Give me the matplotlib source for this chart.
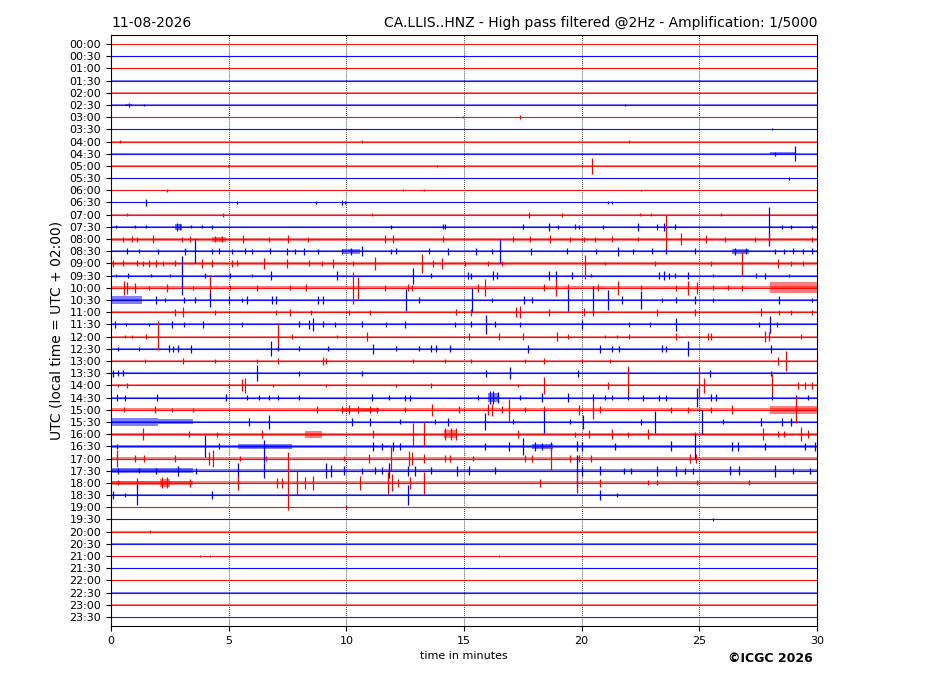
import matplotlib
matplotlib.use("Agg")
import matplotlib.pyplot as plt

# ---------------- data ----------------
row_labels = [f"{h:02d}:{m:02d}" for h in range(24) for m in (0, 30)]
# background noise half-width per row (in row units)
row_noise = [0.03, 0.03, 0.05, 0.06, 0.04, 0.04, 0.04, 0.04, 0.06, 0.06, 0.04, 0.04,
             0.05, 0.05, 0.08, 0.08, 0.12, 0.10, 0.10, 0.08, 0.12, 0.12, 0.08, 0.08,
             0.08, 0.07, 0.10, 0.06, 0.08, 0.08, 0.12, 0.10, 0.12, 0.10, 0.10, 0.10,
             0.12, 0.08, 0.05, 0.04, 0.04, 0.03, 0.04, 0.03, 0.03, 0.03, 0.03, 0.03]
row_colors = ["red", "blue"]

# spikes: (row, minute, amplitude) or (row, minute, up, down)
spikes = [
    ("02:30", 0.75, 0.15), ("02:30", 1.4, 0.06), ("02:30", 21.85, 0.08),
    ("03:00", 14.95, 0.1), ("03:00", 17.4, 0.15),
    ("03:30", 28.1, 0.08),
    ("04:00", 0.4, 0.1), ("04:00", 10.67, 0.1), ("04:00", 22.0, 0.12),
    ("04:30", 28.2, 0.15), ("04:30", 29.07, 0.6),
    ("05:00", 4.97, 0.08), ("05:00", 13.85, 0.1), ("05:00", 20.44, 0.65),
    ("05:30", 28.8, 0.12),
    ("06:00", 2.37, 0.1), ("06:00", 12.4, 0.08), ("06:00", 13.3, 0.08), ("06:00", 22.5, 0.06),
    ("06:30", 1.49, 0.3), ("06:30", 5.34, 0.15), ("06:30", 8.7, 0.1), ("06:30", 9.8, 0.2),
    ("06:30", 9.95, 0.15), ("06:30", 21.1, 0.1), ("06:30", 21.3, 0.1),
    ("07:00", 0.7, 0.12), ("07:00", 4.77, 0.15), ("07:00", 11.08, 0.1), ("07:00", 17.75, 0.25),
    ("07:00", 19.15, 0.15), ("07:00", 22.47, 0.1), ("07:00", 22.96, 0.12), ("07:00", 25.9, 0.1),
    ("07:30", 0.2, 0.12), ("07:30", 1.0, 0.12), ("07:30", 1.5, 0.12), ("07:30", 2.8, 0.3),
    ("07:30", 2.95, 0.25), ("07:30", 3.4, 0.12), ("07:30", 3.85, 0.12), ("07:30", 4.3, 0.15),
    ("07:30", 11.9, 0.15), ("07:30", 14.1, 0.2), ("07:30", 14.2, 0.2), ("07:30", 17.5, 0.2),
    ("07:30", 18.6, 0.3), ("07:30", 19.0, 0.15), ("07:30", 19.7, 0.2), ("07:30", 19.9, 0.15),
    ("07:30", 20.9, 0.15), ("07:30", 22.4, 0.35), ("07:30", 23.2, 0.25), ("07:30", 23.5, 0.3),
    ("07:30", 23.95, 0.2), ("07:30", 27.95, 1.6), ("07:30", 28.5, 0.15), ("07:30", 28.9, 0.15),
    ("07:30", 29.8, 0.15),
    ("08:00", 0.52, 0.2), ("08:00", 0.88, 0.25), ("08:00", 1.09, 0.2), ("08:00", 1.8, 0.3),
    ("08:00", 3.0, 0.2), ("08:00", 3.36, 0.25), ("08:00", 4.4, 0.25), ("08:00", 4.7, 0.25),
    ("08:00", 5.6, 0.3), ("08:00", 6.7, 0.2), ("08:00", 7.5, 0.35), ("08:00", 8.39, 0.2),
    ("08:00", 11.65, 0.35), ("08:00", 12.0, 0.35), ("08:00", 14.1, 0.25), ("08:00", 17.1, 0.25),
    ("08:00", 17.8, 0.25), ("08:00", 18.65, 0.35), ("08:00", 19.5, 0.2), ("08:00", 20.1, 0.2),
    ("08:00", 20.55, 0.2), ("08:00", 21.3, 0.25), ("08:00", 22.4, 0.15), ("08:00", 23.6, 2.0, 1.0),
    ("08:00", 24.2, 0.5), ("08:00", 25.3, 0.3), ("08:00", 26.1, 0.2), ("08:00", 27.35, 0.2),
    ("08:00", 27.95, 0.5), ("08:00", 29.8, 0.2),
    ("08:30", 0.7, 0.25), ("08:30", 1.2, 0.15), ("08:30", 2.0, 0.2), ("08:30", 3.15, 0.3),
    ("08:30", 3.57, 1.0), ("08:30", 4.28, 0.2), ("08:30", 4.6, 0.25), ("08:30", 5.13, 0.2),
    ("08:30", 5.7, 0.25), ("08:30", 6.0, 0.2), ("08:30", 6.76, 0.25), ("08:30", 7.47, 0.3),
    ("08:30", 7.8, 0.2), ("08:30", 8.2, 0.3), ("08:30", 8.8, 0.2), ("08:30", 9.8, 0.2),
    ("08:30", 10.2, 0.3), ("08:30", 10.65, 0.4), ("08:30", 11.9, 0.2), ("08:30", 12.1, 0.25),
    ("08:30", 13.5, 0.25), ("08:30", 14.3, 0.3), ("08:30", 15.5, 0.3), ("08:30", 16.2, 0.2),
    ("08:30", 16.55, 1.0), ("08:30", 17.85, 0.3), ("08:30", 19.36, 0.25), ("08:30", 20.6, 0.2),
    ("08:30", 21.55, 0.35), ("08:30", 22.2, 0.2), ("08:30", 22.97, 0.25), ("08:30", 23.6, 0.2),
    ("08:30", 24.8, 0.25), ("08:30", 26.5, 0.3), ("08:30", 27.0, 0.25), ("08:30", 28.2, 0.2),
    ("08:30", 28.6, 0.2), ("08:30", 29.0, 0.25), ("08:30", 29.4, 0.2), ("08:30", 29.8, 0.25),
    ("09:00", 0.1, 0.3), ("09:00", 0.52, 0.25), ("09:00", 1.09, 0.25), ("09:00", 1.35, 0.2),
    ("09:00", 1.6, 0.3), ("09:00", 1.9, 0.3), ("09:00", 2.2, 0.2), ("09:00", 2.72, 0.25),
    ("09:00", 3.85, 0.4), ("09:00", 4.3, 0.3), ("09:00", 5.15, 0.3), ("09:00", 5.35, 0.25),
    ("09:00", 6.5, 0.45), ("09:00", 7.47, 0.35), ("09:00", 8.4, 0.25), ("09:00", 8.95, 0.2),
    ("09:00", 9.45, 0.4), ("09:00", 10.3, 0.2), ("09:00", 11.2, 0.55), ("09:00", 13.2, 0.8),
    ("09:00", 13.7, 0.3), ("09:00", 14.05, 0.45), ("09:00", 15.05, 0.2), ("09:00", 16.0, 0.2),
    ("09:00", 16.6, 0.2), ("09:00", 20.15, 0.7, 1.3), ("09:00", 21.0, 0.15), ("09:00", 23.1, 0.2),
    ("09:00", 25.5, 0.2), ("09:00", 26.8, 1.0), ("09:00", 28.35, 0.35), ("09:00", 28.9, 0.2),
    ("09:00", 29.4, 0.2),
    ("09:30", 0.2, 0.15), ("09:30", 0.74, 0.2), ("09:30", 1.7, 0.15), ("09:30", 2.5, 0.15),
    ("09:30", 3.0, 1.6), ("09:30", 4.0, 0.2), ("09:30", 5.06, 0.2), ("09:30", 6.0, 0.15),
    ("09:30", 6.8, 0.35), ("09:30", 9.6, 0.35), ("09:30", 12.85, 0.65), ("09:30", 13.6, 0.2),
    ("09:30", 15.15, 0.3), ("09:30", 15.3, 0.25), ("09:30", 16.25, 0.35), ("09:30", 16.4, 0.3),
    ("09:30", 18.6, 0.35), ("09:30", 18.9, 0.4), ("09:30", 19.6, 0.3), ("09:30", 20.4, 0.15),
    ("09:30", 23.3, 0.3), ("09:30", 23.5, 0.35), ("09:30", 23.7, 0.25), ("09:30", 23.95, 0.2),
    ("09:30", 24.5, 0.3), ("09:30", 25.6, 0.15), ("09:30", 27.4, 0.2), ("09:30", 27.8, 0.25),
    ("09:30", 28.8, 0.15),
    ("10:00", 0.55, 0.6), ("10:00", 0.67, 0.5), ("10:00", 1.0, 0.4), ("10:00", 1.6, 0.15),
    ("10:00", 2.37, 0.35), ("10:00", 3.5, 0.15), ("10:00", 4.22, 1.05, 0.85), ("10:00", 5.06, 0.2),
    ("10:00", 6.2, 0.25), ("10:00", 7.6, 0.2), ("10:00", 8.3, 0.3), ("10:00", 10.3, 1.3),
    ("10:00", 10.5, 0.9), ("10:00", 11.65, 0.25), ("10:00", 12.6, 0.3), ("10:00", 12.8, 0.25),
    ("10:00", 15.6, 0.35), ("10:00", 15.9, 0.7), ("10:00", 18.4, 0.3), ("10:00", 18.9, 0.7),
    ("10:00", 19.4, 0.3), ("10:00", 20.7, 0.3), ("10:00", 21.55, 0.55), ("10:00", 22.5, 0.2),
    ("10:00", 24.0, 0.25), ("10:00", 24.5, 0.6), ("10:00", 24.9, 0.5), ("10:00", 25.6, 0.2),
    ("10:00", 26.2, 0.2), ("10:00", 26.8, 0.25),
    ("10:30", 1.9, 0.3), ("10:30", 2.3, 0.2), ("10:30", 3.1, 0.25), ("10:30", 3.56, 0.25),
    ("10:30", 4.2, 0.6), ("10:30", 5.0, 0.35), ("10:30", 5.55, 0.2), ("10:30", 5.8, 0.35),
    ("10:30", 6.85, 0.35), ("10:30", 7.0, 0.3), ("10:30", 8.8, 0.35), ("10:30", 9.0, 0.3),
    ("10:30", 12.55, 0.9), ("10:30", 13.1, 0.25), ("10:30", 15.33, 1.0), ("10:30", 16.2, 0.2),
    ("10:30", 17.55, 0.3), ("10:30", 17.9, 0.25), ("10:30", 19.4, 0.9), ("10:30", 20.5, 1.15),
    ("10:30", 21.1, 0.8), ("10:30", 21.7, 0.35), ("10:30", 22.5, 0.7), ("10:30", 23.4, 0.2),
    ("10:30", 24.0, 0.25), ("10:30", 24.8, 0.35), ("10:30", 25.6, 0.15), ("10:30", 28.4, 0.3),
    ("10:30", 29.8, 0.2),
    ("11:00", 2.7, 0.3), ("11:00", 3.07, 0.4), ("11:00", 4.4, 0.2), ("11:00", 7.0, 0.2),
    ("11:00", 7.6, 0.3), ("11:00", 8.5, 0.2), ("11:00", 10.1, 0.2), ("11:00", 11.0, 0.2),
    ("11:00", 14.65, 0.25), ("11:00", 15.3, 0.3), ("11:00", 17.2, 0.4), ("11:00", 17.4, 0.5),
    ("11:00", 18.6, 0.3), ("11:00", 20.1, 0.35), ("11:00", 20.5, 0.3), ("11:00", 23.2, 0.3),
    ("11:00", 24.8, 0.3), ("11:00", 27.6, 0.35), ("11:00", 28.4, 0.2), ("11:00", 28.9, 0.2),
    ("11:00", 29.8, 0.2),
    ("11:30", 0.15, 0.3), ("11:30", 0.65, 0.15), ("11:30", 1.6, 0.15), ("11:30", 2.58, 0.3),
    ("11:30", 3.1, 0.2), ("11:30", 3.92, 0.3), ("11:30", 5.55, 0.2), ("11:30", 8.0, 0.25),
    ("11:30", 8.4, 0.4), ("11:30", 8.6, 0.5), ("11:30", 9.0, 0.25), ("11:30", 9.5, 0.2),
    ("11:30", 10.65, 0.25), ("11:30", 11.7, 0.2), ("11:30", 12.5, 0.3), ("11:30", 14.6, 0.2),
    ("11:30", 15.3, 0.25), ("11:30", 15.95, 0.75), ("11:30", 16.3, 0.25), ("11:30", 17.4, 0.2),
    ("11:30", 20.0, 0.4), ("11:30", 22.0, 0.2), ("11:30", 22.9, 0.2), ("11:30", 24.0, 0.5),
    ("11:30", 27.55, 0.2), ("11:30", 28.0, 0.7), ("11:30", 28.3, 0.2),
    ("12:00", 0.6, 0.15), ("12:00", 0.9, 0.15), ("12:00", 1.5, 0.2), ("12:00", 2.0, 1.3, 1.1),
    ("12:00", 7.1, 1.1), ("12:00", 7.7, 0.2), ("12:00", 9.6, 0.15), ("12:00", 10.86, 0.35),
    ("12:00", 15.2, 0.3), ("12:00", 16.5, 0.3), ("12:00", 17.5, 0.3), ("12:00", 18.95, 0.4),
    ("12:00", 19.4, 0.2), ("12:00", 21.0, 0.15), ("12:00", 21.5, 0.15), ("12:00", 22.0, 0.2),
    ("12:00", 24.0, 0.3), ("12:00", 25.35, 0.3), ("12:00", 25.5, 0.3), ("12:00", 27.8, 0.45),
    ("12:00", 27.95, 0.4), ("12:00", 29.3, 0.2),
    ("12:30", 0.3, 0.15), ("12:30", 1.2, 0.15), ("12:30", 2.45, 0.3), ("12:30", 2.65, 0.25),
    ("12:30", 2.85, 0.3), ("12:30", 3.4, 0.35), ("12:30", 6.8, 0.6), ("12:30", 7.1, 0.2),
    ("12:30", 8.0, 0.2), ("12:30", 9.2, 0.2), ("12:30", 11.15, 0.4), ("12:30", 12.1, 0.2),
    ("12:30", 13.1, 0.2), ("12:30", 13.6, 0.3), ("12:30", 13.8, 0.3), ("12:30", 14.4, 0.3),
    ("12:30", 17.7, 0.35), ("12:30", 20.8, 0.35), ("12:30", 21.3, 0.25), ("12:30", 21.6, 0.25),
    ("12:30", 23.4, 0.3), ("12:30", 23.6, 0.25), ("12:30", 24.5, 0.6), ("12:30", 28.05, 0.35),
    ("13:00", 1.45, 0.15), ("13:00", 3.07, 0.25), ("13:00", 4.4, 0.15), ("13:00", 6.2, 0.15),
    ("13:00", 7.1, 0.25), ("13:00", 9.0, 0.3), ("13:00", 9.15, 0.25), ("13:00", 12.85, 0.2),
    ("13:00", 14.2, 0.15), ("13:00", 15.3, 0.15), ("13:00", 17.6, 0.15), ("13:00", 18.4, 0.25),
    ("13:00", 20.0, 0.15), ("13:00", 21.2, 0.15), ("13:00", 28.35, 0.3), ("13:00", 28.7, 0.8),
    ("13:30", 0.1, 0.3), ("13:30", 0.3, 0.25), ("13:30", 0.5, 0.25), ("13:30", 6.2, 0.65),
    ("13:30", 8.0, 0.2), ("13:30", 10.65, 0.2), ("13:30", 15.95, 0.3), ("13:30", 16.95, 0.5),
    ("13:30", 19.85, 0.3), ("13:30", 25.45, 0.3), ("13:30", 28.05, 0.2),
    ("14:00", 0.3, 0.15), ("14:00", 0.7, 0.2), ("14:00", 5.0, 0.2), ("14:00", 5.55, 0.5),
    ("14:00", 5.7, 0.6), ("14:00", 6.9, 0.15), ("14:00", 9.15, 0.15), ("14:00", 12.1, 0.15),
    ("14:00", 13.6, 0.2), ("14:00", 17.3, 0.15), ("14:00", 18.4, 0.7), ("14:00", 21.1, 0.3),
    ("14:00", 21.95, 1.6, 0.9), ("14:00", 25.0, 1.5, 1.1), ("14:00", 25.2, 0.6), ("14:00", 28.1, 0.9),
    ("14:00", 29.2, 0.3), ("14:00", 29.5, 0.3), ("14:00", 29.8, 0.3),
    ("14:30", 0.25, 0.3), ("14:30", 0.6, 0.25), ("14:30", 1.95, 0.3), ("14:30", 4.9, 0.3),
    ("14:30", 5.8, 0.2), ("14:30", 6.3, 0.2), ("14:30", 6.7, 0.2), ("14:30", 7.1, 0.2),
    ("14:30", 8.0, 0.2), ("14:30", 11.1, 0.3), ("14:30", 11.8, 0.2), ("14:30", 12.5, 0.25),
    ("14:30", 12.7, 0.25), ("14:30", 15.6, 0.2), ("14:30", 16.1, 0.5), ("14:30", 16.25, 0.55),
    ("14:30", 16.45, 0.45), ("14:30", 17.4, 0.2), ("14:30", 18.3, 0.35), ("14:30", 19.4, 0.35),
    ("14:30", 20.5, 0.3), ("14:30", 21.0, 0.2), ("14:30", 21.3, 0.2), ("14:30", 21.95, 0.2),
    ("14:30", 22.6, 0.25), ("14:30", 23.3, 0.25), ("14:30", 23.6, 0.25), ("14:30", 24.9, 0.8),
    ("14:30", 25.5, 0.3), ("14:30", 25.7, 0.3), ("14:30", 28.1, 0.2), ("14:30", 29.1, 0.2),
    ("14:30", 29.6, 0.2),
    ("15:00", 0.55, 0.2), ("15:00", 1.87, 0.3), ("15:00", 2.6, 0.15), ("15:00", 3.5, 0.15),
    ("15:00", 8.75, 0.3), ("15:00", 9.8, 0.3), ("15:00", 10.1, 0.35), ("15:00", 10.5, 0.3),
    ("15:00", 11.0, 0.3), ("15:00", 11.3, 0.25), ("15:00", 12.5, 0.2), ("15:00", 13.63, 0.5),
    ("15:00", 14.8, 0.3), ("15:00", 16.0, 0.45), ("15:00", 16.2, 0.5), ("15:00", 16.6, 0.3),
    ("15:00", 16.9, 0.9), ("15:00", 17.6, 0.2), ("15:00", 18.4, 0.3), ("15:00", 19.9, 0.4),
    ("15:00", 20.5, 0.8), ("15:00", 20.8, 0.3), ("15:00", 23.8, 0.25), ("15:00", 24.5, 0.25),
    ("15:00", 25.5, 0.25), ("15:00", 26.4, 0.35), ("15:00", 29.1, 1.1),
    ("15:30", 5.85, 0.3), ("15:30", 6.7, 0.55), ("15:30", 10.24, 0.3), ("15:30", 11.0, 0.3),
    ("15:30", 12.3, 0.2), ("15:30", 13.75, 0.2), ("15:30", 14.3, 0.3), ("15:30", 15.9, 0.7),
    ("15:30", 17.1, 0.2), ("15:30", 18.4, 0.9), ("15:30", 19.5, 0.2), ("15:30", 20.05, 0.6),
    ("15:30", 22.5, 0.25), ("15:30", 23.1, 0.9), ("15:30", 25.1, 1.0), ("15:30", 26.0, 0.2),
    ("15:30", 27.6, 0.3), ("15:30", 28.5, 0.3), ("15:30", 28.9, 0.3),
    ("16:00", 1.37, 0.5), ("16:00", 3.3, 0.25), ("16:00", 4.5, 0.2), ("16:00", 6.4, 0.3),
    ("16:00", 11.15, 0.3), ("16:00", 12.85, 0.9), ("16:00", 13.3, 1.0), ("16:00", 14.2, 0.5),
    ("16:00", 14.45, 0.5), ("16:00", 14.65, 0.5), ("16:00", 17.3, 0.3), ("16:00", 19.7, 0.2),
    ("16:00", 20.3, 0.3), ("16:00", 21.3, 0.4), ("16:00", 21.95, 0.2), ("16:00", 22.8, 0.4),
    ("16:00", 24.8, 0.2), ("16:00", 27.7, 0.5), ("16:00", 28.35, 0.25), ("16:00", 28.6, 0.25),
    ("16:00", 29.3, 0.6), ("16:00", 29.6, 0.3),
    ("16:30", 0.25, 0.2), ("16:30", 4.0, 0.9), ("16:30", 4.6, 0.25), ("16:30", 6.5, 0.55, 1.4),
    ("16:30", 11.15, 0.35), ("16:30", 11.5, 0.3), ("16:30", 12.0, 0.35), ("16:30", 12.3, 0.3),
    ("16:30", 15.9, 0.3), ("16:30", 16.9, 0.35), ("16:30", 17.5, 0.7), ("16:30", 18.0, 0.35),
    ("16:30", 18.3, 0.3), ("16:30", 18.7, 0.35), ("16:30", 19.8, 0.4), ("16:30", 20.0, 0.35),
    ("16:30", 21.4, 0.3), ("16:30", 23.8, 0.4), ("16:30", 24.8, 1.0), ("16:30", 26.4, 0.35),
    ("16:30", 26.65, 0.35), ("16:30", 27.8, 0.3), ("16:30", 29.5, 0.3), ("16:30", 29.9, 0.35),
    ("17:00", 0.24, 0.7), ("17:00", 1.0, 0.3), ("17:00", 1.4, 0.25), ("17:00", 2.7, 0.3),
    ("17:00", 4.15, 0.5), ("17:00", 4.35, 0.7), ("17:00", 5.5, 0.2), ("17:00", 6.6, 0.2),
    ("17:00", 9.9, 0.2), ("17:00", 10.95, 0.35), ("17:00", 11.9, 1.0), ("17:00", 12.65, 0.6),
    ("17:00", 12.8, 0.5), ("17:00", 13.3, 0.4), ("17:00", 14.2, 0.3), ("17:00", 14.4, 0.3),
    ("17:00", 15.4, 0.2), ("17:00", 17.6, 0.3), ("17:00", 17.9, 0.3), ("17:00", 18.7, 1.0),
    ("17:00", 19.5, 0.25), ("17:00", 19.9, 0.25), ("17:00", 20.4, 0.25), ("17:00", 24.6, 0.35),
    ("17:00", 24.85, 0.35),
    ("17:30", 0.3, 0.25), ("17:30", 1.2, 0.2), ("17:30", 1.9, 0.25), ("17:30", 2.85, 0.4),
    ("17:30", 3.6, 0.25), ("17:30", 5.4, 0.6), ("17:30", 6.5, 0.6), ("17:30", 9.15, 0.6),
    ("17:30", 9.35, 0.5), ("17:30", 9.9, 0.35), ("17:30", 10.65, 0.25), ("17:30", 11.2, 0.3),
    ("17:30", 11.5, 0.3), ("17:30", 11.8, 0.6), ("17:30", 12.6, 0.4), ("17:30", 12.9, 0.4),
    ("17:30", 13.6, 0.3), ("17:30", 14.7, 0.4), ("17:30", 15.2, 0.35), ("17:30", 16.3, 0.3),
    ("17:30", 19.8, 1.3), ("17:30", 20.0, 0.4), ("17:30", 20.8, 0.35), ("17:30", 21.8, 0.25),
    ("17:30", 22.1, 0.25), ("17:30", 23.2, 0.4), ("17:30", 24.0, 0.4), ("17:30", 24.4, 0.25),
    ("17:30", 24.75, 0.25), ("17:30", 26.3, 0.35), ("17:30", 26.7, 0.35), ("17:30", 28.2, 0.5),
    ("17:30", 29.0, 0.25), ("17:30", 29.7, 0.25),
    ("18:00", 0.3, 0.2), ("18:00", 1.1, 0.4), ("18:00", 2.15, 0.45), ("18:00", 2.4, 0.45),
    ("18:00", 3.35, 0.35), ("18:00", 5.4, 0.6), ("18:00", 7.05, 0.4), ("18:00", 7.25, 0.4),
    ("18:00", 7.5, 2.5, 2.2), ("18:00", 7.9, 1.0), ("18:00", 8.25, 0.5), ("18:00", 8.6, 0.6),
    ("18:00", 10.6, 0.6), ("18:00", 11.75, 0.9), ("18:00", 11.95, 0.7), ("18:00", 12.2, 0.3),
    ("18:00", 12.7, 0.5), ("18:00", 13.3, 0.9), ("18:00", 18.25, 0.35), ("18:00", 19.8, 0.8),
    ("18:00", 20.8, 0.35), ("18:00", 22.8, 0.2), ("18:00", 23.2, 0.2), ("18:00", 24.9, 0.2),
    ("18:00", 27.1, 0.2),
    ("18:30", 0.1, 0.35), ("18:30", 0.6, 0.15), ("18:30", 1.1, 0.8), ("18:30", 4.3, 0.3),
    ("18:30", 12.6, 0.8), ("18:30", 20.8, 0.4), ("18:30", 21.5, 0.15),
    ("19:00", 10.0, 0.15),
    ("19:30", 25.6, 0.12),
    ("20:00", 1.65, 0.1),
    ("21:00", 3.8, 0.08), ("21:00", 4.2, 0.1), ("21:00", 16.5, 0.06),
]

# bursts of continuous shaking: (row, start minute, end minute, amplitude)
bursts = [
    ("02:30", 0.6, 0.9, 0.12), ("04:30", 28.0, 29.1, 0.12), ("07:30", 2.7, 3.0, 0.25),
    ("08:00", 4.3, 4.9, 0.2), ("08:30", 9.8, 10.6, 0.22), ("08:30", 26.4, 27.1, 0.22),
    ("10:00", 28.0, 30.0, 0.45), ("10:30", 0.0, 1.3, 0.3), ("14:30", 16.0, 16.5, 0.35),
    ("15:00", 9.8, 11.4, 0.18), ("15:00", 28.0, 30.0, 0.33), ("15:30", 0.0, 2.0, 0.35),
    ("15:30", 2.0, 3.5, 0.2), ("16:00", 8.25, 8.95, 0.28), ("16:00", 14.15, 14.65, 0.35),
    ("16:30", 5.4, 7.7, 0.22), ("16:30", 17.9, 18.8, 0.22), ("17:30", 0.0, 3.5, 0.18),
    ("18:00", 0.0, 3.5, 0.18), ("18:00", 2.1, 2.5, 0.3),
]

x_ticks = [0, 5, 10, 15, 20, 25, 30]
date_text = "11-08-2026"
station_text = "CA.LLIS..HNZ - High pass filtered @2Hz - Amplification: 1/5000"

# ---------------- plot ----------------
fig = plt.figure(figsize=(9.27, 6.96), dpi=100)
ax = fig.add_axes([111 / 927, 1 - 626 / 696, 706 / 927, 591 / 696])

row_index = {lab: i for i, lab in enumerate(row_labels)}

for i, lab in enumerate(row_labels):
    c = row_colors[i % 2]
    n = row_noise[i]
    ax.fill_between([0, 30], [i - n, i - n], [i + n, i + n], color=c, alpha=0.5, lw=0)
    ax.plot([0, 30], [i, i], color=c, lw=0.8, alpha=0.9)

for b in bursts:
    i = row_index[b[0]]
    c = row_colors[i % 2]
    ax.fill_between([b[1], b[2]], [i - b[3]] * 2, [i + b[3]] * 2, color=c, alpha=0.5, lw=0)

for s in spikes:
    i = row_index[s[0]]
    c = row_colors[i % 2]
    up = s[2]
    down = s[3] if len(s) > 3 else s[2]
    ax.vlines(s[1], i - up, i + down, color=c, lw=0.9)

for xv in x_ticks[1:-1]:
    ax.axvline(xv, color="black", lw=0.6, ls=(0, (1, 1.5)), zorder=0.5)

ax.set_xlim(0, 30)
ax.set_ylim(len(row_labels) - 1 + 0.74, -0.74)
ax.set_xticks(x_ticks)
ax.set_yticks(range(len(row_labels)))
ax.set_yticklabels(row_labels)
ax.tick_params(axis="both", labelsize=8)
ax.set_xlabel("time in minutes", fontsize=8)
ax.set_ylabel("UTC (local time = UTC + 02:00)", fontsize=10)
ax.set_title(date_text, loc="left", fontsize=10)
ax.set_title(station_text, loc="right", fontsize=10)
fig.text(770 / 927, 1 - 658 / 696, "©ICGC 2026", fontsize=9, fontweight="bold",
         ha="center", va="center")

fig.savefig("out.png", dpi=100)
